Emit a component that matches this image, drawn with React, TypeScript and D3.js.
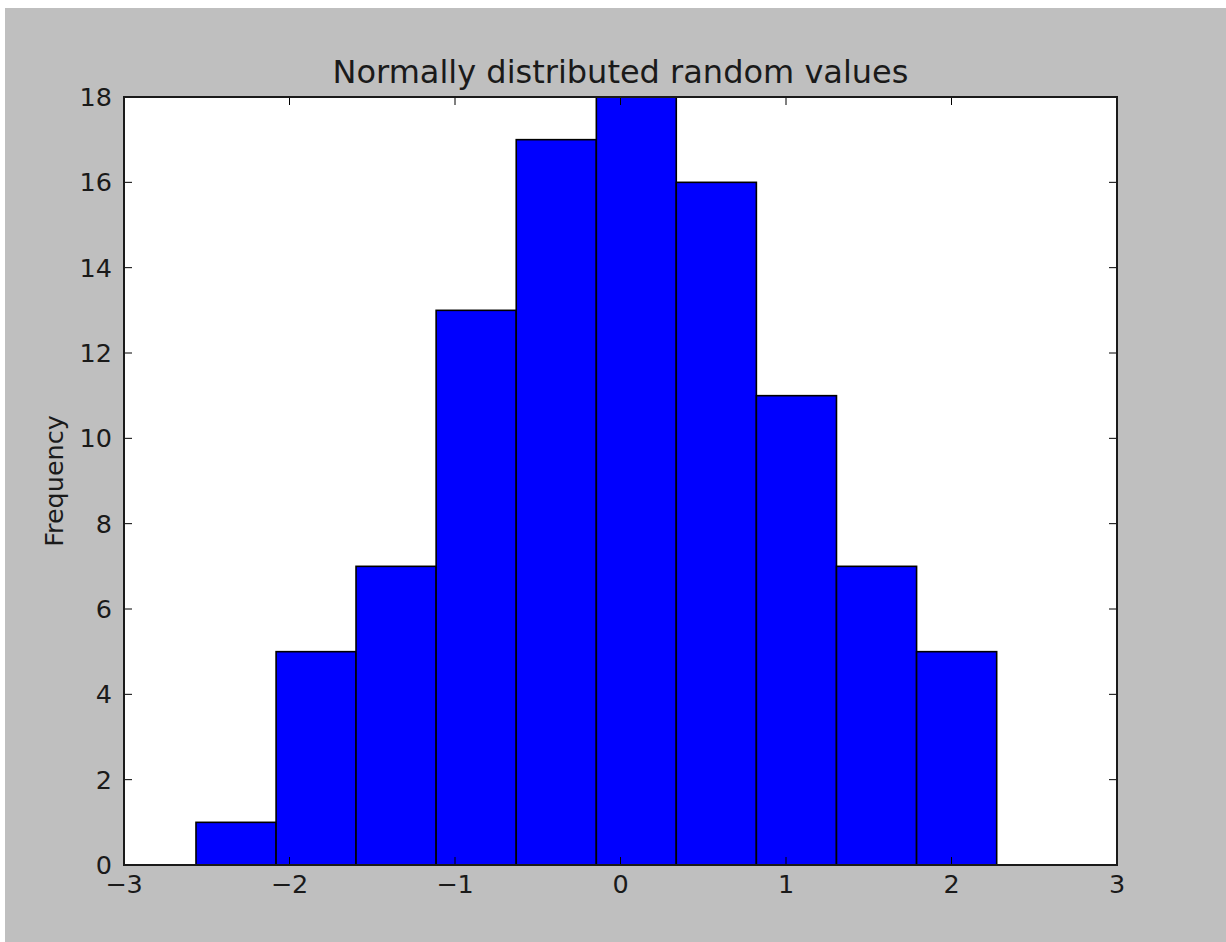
import React from "react";
import * as d3 from "d3";

const binEdges = [-2.565, -2.081, -1.598, -1.114, -0.63, -0.146, 0.337, 0.821, 1.305, 1.789, 2.273];
const counts = [1, 5, 7, 13, 17, 18, 16, 11, 7, 5];
const xTicks = [-3, -2, -1, 0, 1, 2, 3];
const yTicks = [0, 2, 4, 6, 8, 10, 12, 14, 16, 18];
const titleText = "Normally distributed random values";
const yLabelText = "Frequency";

export default function App() {
  const W = 1226;
  const H = 942;
  const L = 124, R = 1117, T = 97, B = 865;
  const x = d3.scaleLinear().domain([-3, 3]).range([L, R]);
  const y = d3.scaleLinear().domain([0, 18]).range([B, T]);
  const fmt = d3.format("d");
  const font = "'DejaVu Sans', sans-serif";
  const tickLen = 8;
  const tickFont = 25.5;
  const bins = counts.map((c, i) => ({ x0: binEdges[i], x1: binEdges[i + 1], c }));

  return (
    <svg
      width={W}
      height={H}
      style={{ position: "fixed", left: 0, top: 0, display: "block" }}
      fontFamily={font}
    >
      <rect x={0} y={0} width={W} height={H} fill="#ffffff" />
      <rect x={5} y={8} width={W - 5} height={H - 8} fill="#bfbfbf" />
      <rect x={L} y={T} width={R - L} height={B - T} fill="#ffffff" />
      {bins.map((b, i) => (
        <rect
          key={i}
          x={x(b.x0)}
          y={y(b.c)}
          width={x(b.x1) - x(b.x0)}
          height={y(0) - y(b.c)}
          fill="#0000ff"
          stroke="#000000"
          strokeWidth={1.6}
        />
      ))}
      {xTicks.map((t) => (
        <g key={"x" + t}>
          <line x1={x(t)} x2={x(t)} y1={B} y2={B - tickLen} stroke="#000" strokeWidth={1} />
          <line x1={x(t)} x2={x(t)} y1={T} y2={T + tickLen} stroke="#000" strokeWidth={1} />
          <text x={x(t)} y={893} textAnchor="middle" fontSize={tickFont} fill="#1a1a1a">
            {fmt(t)}
          </text>
        </g>
      ))}
      {yTicks.map((t) => (
        <g key={"y" + t}>
          <line x1={L} x2={L + tickLen} y1={y(t)} y2={y(t)} stroke="#000" strokeWidth={1} />
          <line x1={R} x2={R - tickLen} y1={y(t)} y2={y(t)} stroke="#000" strokeWidth={1} />
          <text x={112} y={y(t) + 9} textAnchor="end" fontSize={tickFont} fill="#1a1a1a">
            {fmt(t)}
          </text>
        </g>
      ))}
      <rect x={L} y={T} width={R - L} height={B - T} fill="none" stroke="#1a1a1a" strokeWidth={2} />
      <text x={(L + R) / 2} y={83} textAnchor="middle" fontSize={32} fill="#1a1a1a">
        {titleText}
      </text>
      <text
        transform={`translate(63, ${(T + B) / 2}) rotate(-90)`}
        textAnchor="middle"
        fontSize={tickFont}
        fill="#1a1a1a"
      >
        {yLabelText}
      </text>
    </svg>
  );
}
